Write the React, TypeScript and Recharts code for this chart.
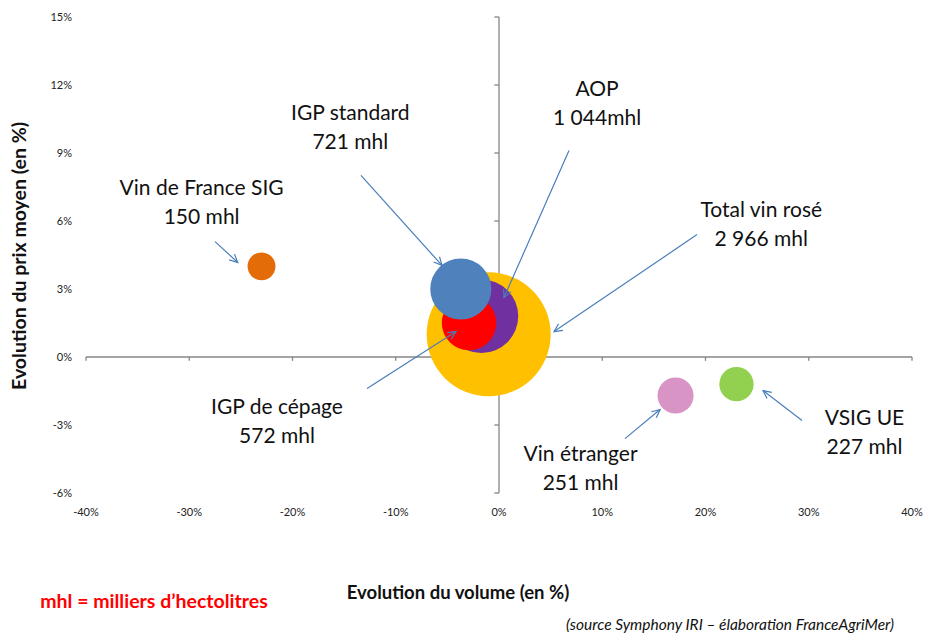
import React from 'react';
import {
  ReferenceDot,
  ReferenceLine,
  Scatter,
  ScatterChart,
  XAxis,
  YAxis,
  ZAxis,
  Cell,
} from 'recharts';

// bubbles: volume change (%), mean price change (%), volume (mhl)
const names = [
  'Total vin rosé',
  'AOP',
  'IGP de cépage',
  'IGP standard',
  'Vin de France SIG',
  'Vin étranger',
  'VSIG UE',
];
const volumeChange = [-1.0, -1.7, -2.9, -3.7, -23.0, 17.1, 23.0];
const priceChange = [1.0, 1.8, 1.5, 3.0, 4.0, -1.7, -1.2];
const volumes = [2966, 1044, 572, 721, 150, 251, 227];
const colors = ['#FFC000', '#7030A0', '#FF0000', '#4F81BD', '#E36C09', '#D994C6', '#92D050'];

const labelLines = [
  ['Total vin rosé', '2 966 mhl'],
  ['AOP', '1 044mhl'],
  ['IGP de cépage', '572 mhl'],
  ['IGP standard', '721 mhl'],
  ['Vin de France SIG', '150 mhl'],
  ['Vin étranger', '251 mhl'],
  ['VSIG UE', '227 mhl'],
];
// label centres, in axis units
const labelX = [25.4, 9.5, -21.5, -14.4, -28.8, 7.9, 35.4];
const labelY = [5.91, 11.23, -2.78, 10.19, 6.88, -4.85, -3.26];
// arrows from label to bubble, in axis units
const arrowFrom = [
  [19.18, 5.4],
  [6.78, 9.11],
  [-12.78, -1.39],
  [-13.37, 8.01],
  [-27.5, 5.09],
  [12.2, -3.6],
  [29.35, -2.8],
];
const arrowTo = [
  [5.33, 1.12],
  [0.48, 2.62],
  [-4.16, 1.12],
  [-5.52, 4.04],
  [-25.3, 4.17],
  [15.6, -2.32],
  [25.57, -1.48],
];

const xTicks = [-40, -30, -20, -10, 0, 10, 20, 30, 40];
const yTicks = [-6, -3, 0, 3, 6, 9, 12, 15];

const data = names.map((name, i) => ({
  name,
  x: volumeChange[i],
  y: priceChange[i],
  z: volumes[i],
}));

const FONT = 'Lato, "Open Sans", sans-serif';
const AXIS_GREY = '#868686';
const ARROW = '#4A7EBB';

function Arrow(props: any) {
  const { x1, y1, x2, y2 } = props;
  const a = Math.atan2(y2 - y1, x2 - x1);
  const len = 9;
  const spread = 0.45;
  const ax = x2 - len * Math.cos(a - spread);
  const ay = y2 - len * Math.sin(a - spread);
  const bx = x2 - len * Math.cos(a + spread);
  const by = y2 - len * Math.sin(a + spread);
  return (
    <g stroke={ARROW} strokeWidth={1.2} fill="none">
      <line x1={x1} y1={y1} x2={x2} y2={y2} />
      <polyline points={`${ax},${ay} ${x2},${y2} ${bx},${by}`} />
    </g>
  );
}

function TwoLineLabel({ cx, cy, lines }: any) {
  return (
    <text x={cx} textAnchor="middle" fontFamily={FONT} fontSize={21} fill="#111">
      <tspan x={cx} y={cy - 14.5} dominantBaseline="central">
        {lines[0]}
      </tspan>
      <tspan x={cx} y={cy + 14.5} dominantBaseline="central">
        {lines[1]}
      </tspan>
    </text>
  );
}

export default function App() {
  return (
    <div style={{ position: 'absolute', left: 0, top: 0, width: 926, height: 633, background: '#fff' }}>
      <ScatterChart
        width={926}
        height={633}
        margin={{ top: 17, right: 14, bottom: 110, left: 26 }}
      >
        <XAxis
          type="number"
          dataKey="x"
          domain={[-40, 40]}
          ticks={xTicks}
          allowDataOverflow
          axisLine={false}
          tickLine={false}
          tickSize={0}
          tickMargin={15}
          height={30}
          tickFormatter={(v) => `${v}%`}
          tick={{ fontSize: 11, fill: '#222', fontFamily: FONT }}
        />
        <YAxis
          type="number"
          dataKey="y"
          domain={[-6, 15]}
          ticks={yTicks}
          allowDataOverflow
          axisLine={false}
          tickLine={false}
          tickSize={0}
          tickMargin={14}
          width={60}
          tickFormatter={(v) => `${v}%`}
          tick={{ fontSize: 11, fill: '#222', fontFamily: FONT }}
        />
        <ZAxis type="number" dataKey="z" domain={[0, 2966]} range={[0, 12076]} />

        <ReferenceLine x={0} stroke={AXIS_GREY} strokeWidth={1.3} zIndex={-10} />
        <ReferenceLine y={0} stroke={AXIS_GREY} strokeWidth={1.3} zIndex={-10} />
        {yTicks.map((t) => (
          <ReferenceLine
            key={`yt${t}`}
            segment={[
              { x: 0, y: t },
              { x: -0.45, y: t },
            ]}
            stroke={AXIS_GREY}
            strokeWidth={1.3}
            zIndex={-10}
          />
        ))}
        {xTicks.map((t) => (
          <ReferenceLine
            key={`xt${t}`}
            segment={[
              { x: t, y: 0 },
              { x: t, y: -0.17 },
            ]}
            stroke={AXIS_GREY}
            strokeWidth={1.3}
            zIndex={-10}
          />
        ))}

        <Scatter data={data} isAnimationActive={false} shape="circle">
          {data.map((d, i) => (
            <Cell key={d.name} fill={colors[i]} />
          ))}
        </Scatter>

        {arrowFrom.map((f, i) => (
          <ReferenceLine
            key={`ar${i}`}
            segment={[
              { x: f[0], y: f[1] },
              { x: arrowTo[i][0], y: arrowTo[i][1] },
            ]}
            zIndex={3000}
            shape={(p: any) => <Arrow {...p} />}
          />
        ))}
        {labelLines.map((lines, i) => (
          <ReferenceDot
            key={`lb${i}`}
            x={labelX[i]}
            y={labelY[i]}
            r={1}
            zIndex={3000}
            shape={(p: any) => <TwoLineLabel cx={p.cx} cy={p.cy} lines={lines} />}
          />
        ))}
      </ScatterChart>

      <svg
        width={926}
        height={633}
        style={{ position: 'absolute', left: 0, top: 0, pointerEvents: 'none' }}
      >
        <text
          x={18}
          y={256}
          transform="rotate(-90 18 256)"
          textAnchor="middle"
          dominantBaseline="central"
          fontFamily={FONT}
          fontWeight="bold"
          fontSize={19.5}
          fill="#111"
        >
          Evolution du prix moyen (en %)
        </text>
        <text
          x={458}
          y={592}
          textAnchor="middle"
          dominantBaseline="central"
          fontFamily={FONT}
          fontWeight="bold"
          fontSize={18.5}
          fill="#111"
        >
          Evolution du volume (en %)
        </text>
        <text
          x={154}
          y={600}
          textAnchor="middle"
          dominantBaseline="central"
          fontFamily={FONT}
          fontWeight="bold"
          fontSize={19.5}
          fill="#FF0000"
        >
          mhl = milliers d’hectolitres
        </text>
        <text
          x={730}
          y={624}
          textAnchor="middle"
          dominantBaseline="central"
          fontFamily={FONT}
          fontStyle="italic"
          fontSize={15.5}
          fill="#111"
        >
          (source Symphony IRI – élaboration FranceAgriMer)
        </text>
      </svg>
    </div>
  );
}
